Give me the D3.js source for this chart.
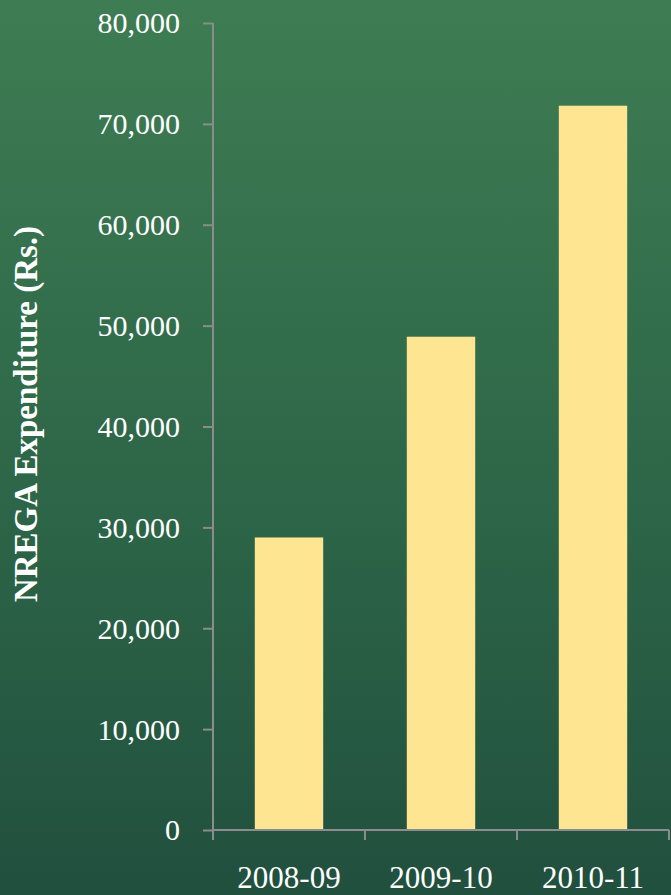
<!DOCTYPE html>
<html lang="en">
<head>
<meta charset="utf-8">
<script src="https://d3js.org/d3.v7.min.js"></script>
<style>
  body { margin: 0; }
  svg { display: block; }
  .tick text { font-family: "Liberation Serif", "DejaVu Serif", serif; fill: #fff; }
</style>
</head>
<body>
<script>
var width = 671,
    height = 895;

var years = ["2008-09", "2009-10", "2010-11"];
var spending = [29000, 48900, 71800];
var yTicks = [0, 10000, 20000, 30000, 40000, 50000, 60000, 70000, 80000];

var svg = d3.select("body").append("svg")
    .attr("width", width)
    .attr("height", height);

// green board background
var grad = svg.append("defs").append("linearGradient")
    .attr("id", "bg")
    .attr("x1", 0).attr("y1", 0).attr("x2", 0).attr("y2", 1);
grad.append("stop").attr("offset", "0%").attr("stop-color", "#3e7d53");
grad.append("stop").attr("offset", "55%").attr("stop-color", "#2d6648");
grad.append("stop").attr("offset", "100%").attr("stop-color", "#21503e");

svg.append("rect")
    .attr("width", width)
    .attr("height", height)
    .attr("fill", "url(#bg)");

var x = d3.scaleBand()
    .domain(years)
    .range([213, 669])
    .padding(0);

var y = d3.scaleLinear()
    .domain([0, 80000])
    .range([830, 23]);

var barW = x.bandwidth() * 0.45;

svg.append("g")
    .selectAll("rect")
    .data(years)
    .enter().append("rect")
    .attr("x", function(d) { return x(d) + (x.bandwidth() - barW) / 2; })
    .attr("y", function(d, i) { return y(spending[i]); })
    .attr("width", barW)
    .attr("height", function(d, i) { return y(0) - y(spending[i]); })
    .attr("fill", "#fde592");

// y axis
var yAxis = svg.append("g")
    .attr("transform", "translate(213,0)")
    .call(d3.axisLeft(y)
        .tickValues(yTicks)
        .tickSize(10)
        .tickPadding(23)
        .tickFormat(d3.format(",")));

// x axis, ticks on band edges
var xAxis = svg.append("g")
    .attr("transform", "translate(0,830)");
xAxis.append("line")
    .attr("x1", x.range()[0]).attr("x2", x.range()[1])
    .attr("stroke", "#8c8c8c").attr("stroke-width", 2);
xAxis.selectAll("line.edge")
    .data([0, 1, 2, 3])
    .enter().append("line")
    .attr("class", "edge")
    .attr("x1", function(i) { return x.range()[0] + i * x.step(); })
    .attr("x2", function(i) { return x.range()[0] + i * x.step(); })
    .attr("y1", 0).attr("y2", 10)
    .attr("stroke", "#8c8c8c").attr("stroke-width", 2);
xAxis.selectAll("text")
    .data(years)
    .enter().append("text")
    .attr("x", function(d) { return x(d) + x.bandwidth() / 2; })
    .attr("y", 58)
    .attr("text-anchor", "middle")
    .attr("font-family", "'Liberation Serif', 'DejaVu Serif', serif")
    .attr("font-size", 31)
    .attr("fill", "#fff")
    .text(function(d) { return d; });

yAxis.selectAll(".domain, .tick line")
    .attr("stroke", "#8c8c8c")
    .attr("stroke-width", 2);
yAxis.select(".domain").attr("d", "M0,830V23");
yAxis.selectAll(".tick text")
    .attr("font-size", 30)
    .attr("dy", "0.33em");

svg.append("text")
    .attr("transform", "translate(37,414) rotate(-90)")
    .attr("text-anchor", "middle")
    .attr("font-family", "'Liberation Serif', 'DejaVu Serif', serif")
    .attr("font-weight", "bold")
    .attr("font-size", 33)
    .attr("fill", "#fff")
    .text("NREGA Expenditure (Rs.)");
</script>
</body>
</html>
